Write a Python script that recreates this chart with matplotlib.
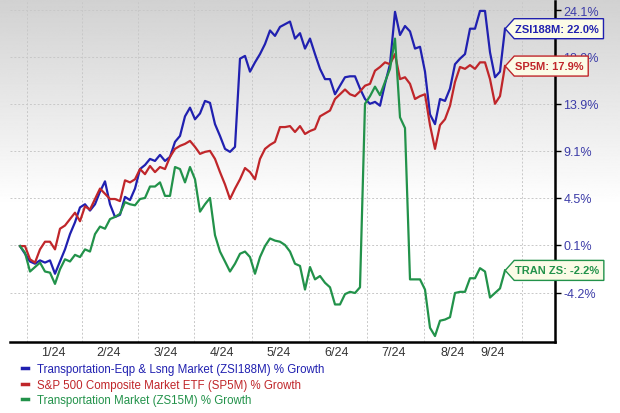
import matplotlib
matplotlib.use("Agg")
import matplotlib.pyplot as plt
import numpy as np
from matplotlib.path import Path

plt.rcParams["font.family"] = ["Liberation Sans", "DejaVu Sans"]

# ---- data: % growth, sampled every ~1.85 trading days from end of Dec 2023 ----
ZSI188M = [0.0, -0.7, -1.4, -1.6, -1.3, -1.5, -1.3, -2.5, -1.4, -0.3,
           1.1, 2.2, 3.6, 3.9, 3.3, 3.9, 5.1, 6.1, 3.9, 2.7,
           2.9, 4.6, 4.3, 5.4, 7.3, 7.7, 8.3, 8.1, 8.7, 8.1,
           8.5, 10.0, 10.6, 12.6, 13.5, 12.3, 12.9, 14.2, 14.0, 11.8,
           10.6, 9.3, 9.0, 9.5, 18.7, 19.0, 17.3, 18.3, 19.2, 20.3,
           21.8, 21.2, 22.2, 22.5, 22.8, 20.9, 21.5, 19.8, 20.9, 19.2,
           17.6, 16.5, 16.5, 14.9, 15.8, 16.7, 16.8, 16.8, 15.5, 14.4,
           13.9, 14.1, 13.7, 16.0, 18.1, 23.9, 21.3, 22.3, 21.7, 19.8,
           20.0, 17.3, 12.8, 11.8, 14.4, 14.2, 15.5, 18.1, 18.7, 19.2,
           22.0, 22.0, 24.0, 24.0, 19.4, 16.7, 17.3, 22.0]
SP5M = [0.0, 0.0, -1.2, -1.5, -0.3, 0.4, 0.4, -0.3, 1.6, 1.9,
        2.5, 3.1, 2.3, 3.7, 3.4, 4.4, 5.4, 4.9, 4.4, 4.4,
        4.2, 6.2, 6.0, 6.3, 7.3, 6.8, 7.6, 7.0, 7.5, 7.3,
        8.5, 9.3, 9.6, 9.8, 10.1, 9.5, 8.8, 9.0, 9.1, 8.3,
        7.0, 5.8, 4.4, 5.4, 6.3, 7.4, 7.0, 6.3, 8.3, 9.3,
        9.7, 10.0, 11.5, 11.5, 11.6, 11.0, 11.6, 10.8, 11.1, 11.3,
        12.6, 12.9, 13.2, 14.4, 14.9, 15.4, 14.9, 14.7, 15.2, 15.8,
        16.0, 17.4, 17.8, 18.3, 18.1, 19.2, 16.5, 16.7, 16.0, 14.4,
        14.7, 14.9, 11.7, 9.3, 11.7, 12.3, 13.7, 16.2, 17.8, 17.6,
        18.0, 17.6, 18.3, 18.3, 16.5, 13.9, 14.7, 17.9]
ZS15M = [0.0, -0.6, -2.3, -1.9, -1.5, -2.3, -2.4, -3.4, -2.1, -1.2,
         -1.4, -0.8, -1.0, -0.3, -0.5, 1.1, 1.8, 1.6, 2.5, 2.7,
         3.0, 4.1, 3.9, 3.8, 4.4, 4.5, 5.6, 5.6, 6.0, 4.7,
         4.7, 7.5, 7.3, 6.0, 7.5, 6.3, 3.2, 3.9, 4.5, 1.0,
         -0.5, -1.4, -2.3, -1.6, -0.7, -0.5, -1.0, -2.5, -1.0, 0.0,
         0.7, 0.5, 0.4, 0.1, -0.5, -1.6, -1.8, -3.9, -1.9, -3.0,
         -2.7, -3.3, -3.7, -5.2, -5.2, -4.3, -4.1, -4.2, -3.7, 13.9,
         14.7, 15.7, 14.8, 16.2, 17.6, 20.9, 12.5, 11.4, -3.0, -3.0,
         -3.0, -3.9, -7.2, -7.9, -6.6, -6.5, -6.3, -4.2, -4.1, -4.1,
         -2.9, -2.9, -2.0, -2.3, -4.6, -4.2, -3.8, -2.2]

Y_TICKS = [-4.2, 0.1, 4.5, 9.1, 13.9, 18.9, 24.1]
MONTH_LABELS = ["1/24", "2/24", "3/24", "4/24", "5/24", "6/24", "7/24", "8/24", "9/24"]
MONTH_LABEL_POS = [6.6, 17.8, 29.2, 40.4, 51.8, 63.4, 74.8, 86.6, 94.6]
VGRID_POS = [1.4, 12.4, 23.6, 34.8, 46.4, 57.8, 69.4, 80.8, 90.6, 100.4]

SERIES = [
    ("Transportation-Eqp & Lsng Market (ZSI188M) % Growth", "ZSI188M", ZSI188M, "#2020b0"),
    ("S&P 500 Composite Market ETF (SP5M) % Growth", "SP5M", SP5M, "#c0262a"),
    ("Transportation Market (ZS15M) % Growth", "TRAN ZS", ZS15M, "#22924a"),
]


def tag_box(x0, y0, width, height, mutation_size):
    # rectangle with a pointed left edge, like the zacks end-of-line tags
    p = 0.45 * mutation_size
    x0, y0, width, height = x0 - p, y0 - p, width + 2 * p, height + 2 * p
    tip = 0.45 * height
    x0 -= tip * 0.5
    width += tip * 0.5
    verts = [(x0 + tip, y0), (x0 + width, y0), (x0 + width, y0 + height),
             (x0 + tip, y0 + height), (x0, y0 + height / 2), (x0 + tip, y0)]
    return Path(verts, closed=True)


fig = plt.figure(figsize=(6.2, 4.14), dpi=100)

# grey-to-white background gradient
bg = fig.add_axes([0, 0, 1, 1], zorder=-10)
grad = np.linspace(0.82, 1.0, 256)
grad = np.concatenate([grad, np.ones(256)])[:, None]
bg.imshow(np.repeat(grad, 2, axis=1), cmap="gray", vmin=0, vmax=1, aspect="auto",
          extent=[0, 1, 0, 1], origin="upper")
bg.axis("off")

ax = fig.add_axes([10 / 620, 1 - 343 / 414, 545 / 620, 341 / 414])
ax.patch.set_alpha(0)

x = np.arange(len(ZSI188M))
for name, short, vals, color in SERIES:
    v = 1 + np.array(vals) / 100
    ax.plot(x, v, color=color, lw=1.6, label=name, solid_joinstyle="round")

ax.set_yscale("log")
ax.set_ylim(0.916, 1.2513)
ax.set_xlim(-2, 107)

ax.yaxis.tick_right()
ax.set_yticks([1 + t / 100 for t in Y_TICKS])
ax.set_yticklabels([f"{t:.1f}%" for t in Y_TICKS])
ax.yaxis.set_minor_locator(matplotlib.ticker.NullLocator())
ax.tick_params(axis="y", colors="black", labelcolor="#3c3ca8", labelsize=9,
               length=4, width=1, pad=2)

ax.set_xticks(MONTH_LABEL_POS)
ax.set_xticklabels(MONTH_LABELS)
ax.tick_params(axis="x", length=0, labelsize=9, labelcolor="#333333", pad=3)

for gx in VGRID_POS:
    ax.axvline(gx, color="#c8c8c8", lw=0.7, ls=(0, (2, 2)), zorder=0)
for t in Y_TICKS:
    ax.axhline(1 + t / 100, color="#c8c8c8", lw=0.7, ls=(0, (2, 2)), zorder=0)

for side in ["left", "top"]:
    ax.spines[side].set_visible(False)
ax.spines["right"].set_linewidth(1.8)
ax.spines["bottom"].set_linewidth(1.8)

# end-of-line value tags
for name, short, vals, color in SERIES:
    ax.annotate(f"{short}: {vals[-1]:.1f}%", xy=(x[-1], 1 + vals[-1] / 100),
                xytext=(7, 0), textcoords="offset points", va="center", ha="left",
                fontsize=8, fontweight="bold", color=color, zorder=5,
                bbox=dict(boxstyle=tag_box, fc="#fbfbe6", ec=color, lw=1.0),
                annotation_clip=False)

leg = ax.legend(loc="upper left", bbox_to_anchor=(0.022, -0.062), frameon=False,
                fontsize=8.3, labelcolor="linecolor", handlelength=0.5,
                handletextpad=0.8, labelspacing=0.3, borderaxespad=0, borderpad=0)
for line in leg.get_lines():
    line.set_linewidth(2.5)

fig.savefig("out.png", dpi=100)
